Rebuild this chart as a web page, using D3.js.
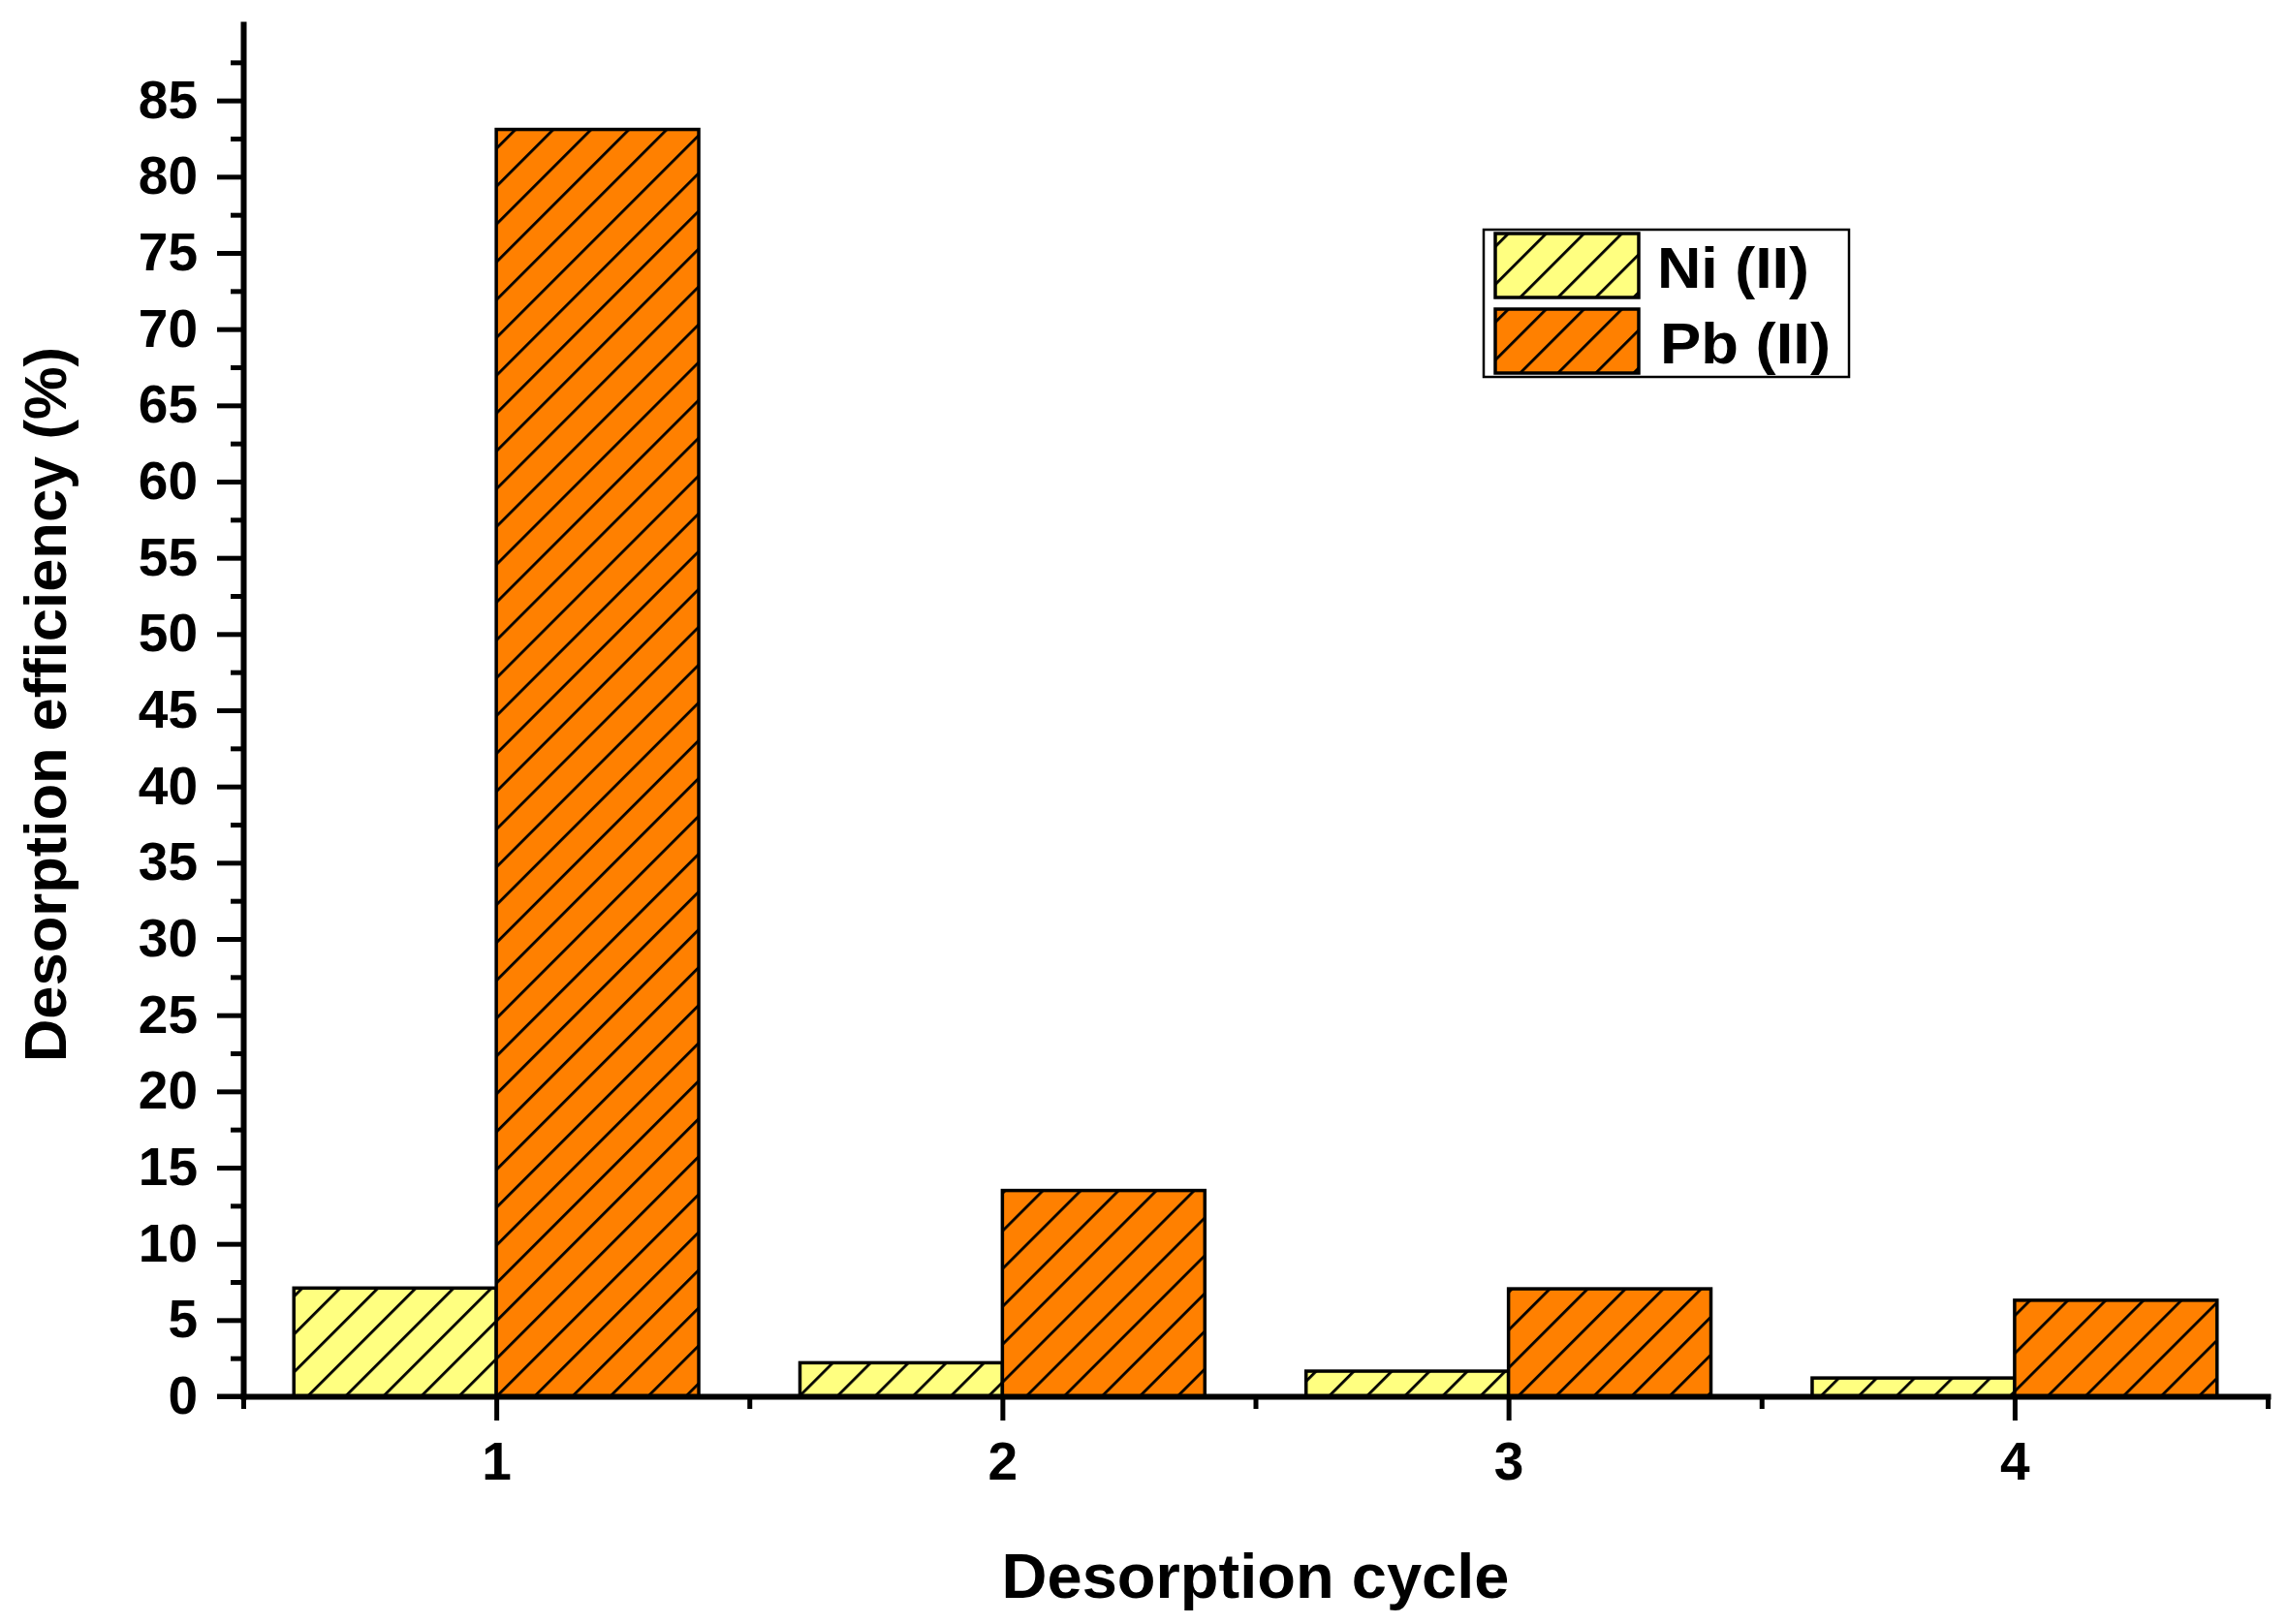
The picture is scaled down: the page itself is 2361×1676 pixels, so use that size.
<!DOCTYPE html>
<html>
<head>
<meta charset="utf-8">
<script src="https://cdn.jsdelivr.net/npm/d3@7"></script>
<style>
  html, body { margin: 0; padding: 0; background: #ffffff; }
  svg { display: block; }
  text { font-family: "Liberation Sans", Arial, sans-serif; font-weight: bold; fill: #000; }
</style>
</head>
<body>
<svg id="chart" width="2361" height="1676"></svg>
<script>
// ---- data ----
const cycles = [1, 2, 3, 4];
const seriesNames = ["Ni (II)", "Pb (II)"];
const niValues = [7.1, 2.2, 1.65, 1.2];
const pbValues = [83.1, 13.5, 7.05, 6.3];
const yMajorTicks = [0, 5, 10, 15, 20, 25, 30, 35, 40, 45, 50, 55, 60, 65, 70, 75, 80, 85];
const xTickLabels = ["1", "2", "3", "4"];
const xTitle = "Desorption cycle";
const yTitle = "Desorption efficiency (%)";

// ---- layout ----
const W = 2361, H = 1676;
const svg = d3.select("#chart");
svg.append("rect").attr("width", W).attr("height", H).attr("fill", "#fff");

const x = d3.scaleLinear().domain([0.5, 4.5]).range([251, 2340]);
const y = d3.scaleLinear().domain([0, 90]).range([1441, 25]);
const colors = ["#FFFF80", "#FF8000"];
const barW = x(0.4) - x(0);

// hatch patterns
const defs = svg.append("defs");
colors.forEach((c, i) => {
  const p = defs.append("pattern")
    .attr("id", "hatch" + i)
    .attr("patternUnits", "userSpaceOnUse")
    .attr("width", 27.6).attr("height", 27.6)
    .attr("patternTransform", "rotate(45)");
  p.append("rect").attr("width", 27.6).attr("height", 27.6).attr("fill", c);
  p.append("line").attr("x1", 1.4).attr("x2", 1.4).attr("y1", 0).attr("y2", 27.6)
    .attr("stroke", "#000").attr("stroke-width", 2.8);
});

// bars
const series = [niValues, pbValues];
series.forEach((vals, si) => {
  svg.append("g").selectAll("rect")
    .data(cycles.map((c, i) => ({ c, v: vals[i] })))
    .join("rect")
    .attr("x", d => x(d.c) + (si === 0 ? -barW : 0))
    .attr("y", d => y(d.v))
    .attr("width", barW)
    .attr("height", d => y(0) - y(d.v))
    .attr("fill", "url(#hatch" + si + ")")
    .attr("stroke", "#000")
    .attr("stroke-width", 3.5);
});

// y axis
const yMinor = d3.range(2.5, 90, 5);
const gy = svg.append("g").attr("transform", `translate(${x(0.5)},0)`);
gy.call(d3.axisLeft(y).tickValues(yMajorTicks).tickSize(27).tickSizeOuter(0).tickPadding(20).tickFormat(d3.format("d")));
const gyMinor = svg.append("g").attr("transform", `translate(${x(0.5)},0)`);
gyMinor.call(d3.axisLeft(y).tickValues(yMinor).tickSize(13).tickSizeOuter(0).tickFormat(""));
gyMinor.select(".domain").remove();

// x axis
const gx = svg.append("g").attr("transform", `translate(0,${y(0)})`);
gx.call(d3.axisBottom(x).tickValues(cycles).tickSize(25).tickSizeOuter(0).tickPadding(22).tickFormat((d, i) => xTickLabels[i]));
const gxMinor = svg.append("g").attr("transform", `translate(0,${y(0)})`);
gxMinor.call(d3.axisBottom(x).tickValues([0.5, 1.5, 2.5, 3.5, 4.5]).tickSize(13).tickSizeOuter(0).tickFormat(""));
gxMinor.select(".domain").remove();

[gy, gyMinor, gx, gxMinor].forEach(g => {
  g.select(".domain").attr("stroke", "#000").attr("stroke-width", 6).attr("stroke-linecap", "square");
  g.selectAll(".tick line").attr("stroke", "#000").attr("stroke-width", 5);
  g.selectAll(".tick text")
    .attr("font-family", '"Liberation Sans", Arial, sans-serif')
    .attr("font-weight", "bold").attr("font-size", 55).attr("fill", "#000");
});
// extend the x-axis line to the left edge of the y ticks
svg.append("line").attr("x1", x(0.5) - 27).attr("x2", x(0.5)).attr("y1", y(0)).attr("y2", y(0))
  .attr("stroke", "#000").attr("stroke-width", 5);

// axis titles
svg.append("text")
  .attr("x", x(2.5)).attr("y", 1649)
  .attr("text-anchor", "middle")
  .attr("font-size", 65)
  .text(xTitle);
svg.append("text")
  .attr("transform", `translate(68,${(y(0) + y(90)) / 2 - 6}) rotate(-90)`)
  .attr("text-anchor", "middle")
  .attr("font-size", 61.5)
  .text(yTitle);

// legend
const lg = svg.append("g");
lg.append("rect").attr("x", 1531).attr("y", 237).attr("width", 377).attr("height", 152)
  .attr("fill", "#fff").attr("stroke", "#000").attr("stroke-width", 2.5);
const legendTextLen = [157, 176];
seriesNames.forEach((name, i) => {
  const top = 241 + i * 78;
  lg.append("rect").attr("x", 1543).attr("y", top).attr("width", 148).attr("height", 66)
    .attr("fill", "url(#hatch" + i + ")").attr("stroke", "#000").attr("stroke-width", 3.5);
  lg.append("text").attr("x", 1710 + i * 3).attr("y", top + 56)
    .attr("font-size", 60)
    .attr("textLength", legendTextLen[i]).attr("lengthAdjust", "spacingAndGlyphs")
    .text(name);
});
</script>
</body>
</html>
